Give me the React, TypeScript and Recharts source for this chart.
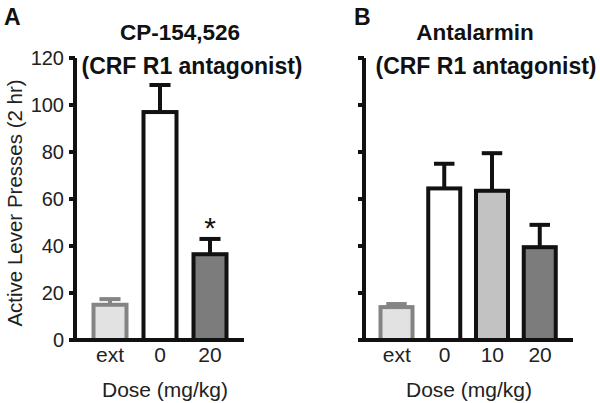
import { Bar, BarChart, XAxis, YAxis } from "recharts";

const doseA = ["ext", "0", "20"];
const meanA = [15, 97, 36.5];
const semA = [2.4, 11.5, 6.5];
const sigA = ["", "", "*"];

const doseB = ["ext", "0", "10", "20"];
const meanB = [14, 64.5, 63.5, 39.5];
const semB = [1.3, 10.5, 16, 9.5];
const sigB = ["", "", "", ""];

const yTicks = [0, 20, 40, 60, 80, 100, 120];

const FONT = "'Liberation Sans', Arial, sans-serif";
const INK = "#111";
const LINE = 4;

const fillByDose: Record<string, string> = { ext: "#e2e2e2", "0": "#ffffff", "10": "#c2c2c2", "20": "#7c7c7c" };
const strokeByDose: Record<string, string> = { ext: "#848484", "0": INK, "10": INK, "20": INK };

function toRows(dose: string[], mean: number[], sem: number[], sig: string[]) {
  return dose.map((d, i) => ({ dose: d, mean: mean[i], sem: sem[i], sig: sig[i] }));
}

const rowsA = toRows(doseA, meanA, semA, sigA);
const rowsB = toRows(doseB, meanB, semB, sigB);

// bar + upper SEM whisker, whisker length taken from the bar's own px/unit
function BarWithError(props: any) {
  const { x, y, width, height, payload } = props;
  const ink = strokeByDose[payload.dose];
  const perUnit = payload.mean ? height / payload.mean : 0;
  const top = y - payload.sem * perUnit;
  const cx = x + width / 2;
  const cap = width * 0.62;
  return (
    <g>
      <line x1={cx} x2={cx} y1={y} y2={top} stroke={ink} strokeWidth={LINE} />
      <line x1={cx - cap / 2} x2={cx + cap / 2} y1={top} y2={top} stroke={ink} strokeWidth={LINE} />
      <rect
        x={x + 0.5}
        y={y}
        width={width - 1}
        height={height}
        fill={fillByDose[payload.dose]}
        stroke={ink}
        strokeWidth={LINE}
      />
      {payload.sig ? (
        <text x={cx} y={top - 1} textAnchor="middle" fontSize={30} fontFamily={FONT} fill={INK}>
          {payload.sig}
        </text>
      ) : null}
    </g>
  );
}

const noTick = () => <g />;

const axisCss = `
.recharts-cartesian-axis-line, .recharts-cartesian-axis-tick-line {
  stroke: ${INK} !important;
  stroke-width: ${LINE}px !important;
}
`;

interface PanelProps {
  rows: ReturnType<typeof toRows>;
  left: number;
  rightMargin: number;
  axisWidth: number;
  barSize: number;
  pad: { left: number; right: number };
  showLabels: boolean;
}

function Panel({ rows, left, rightMargin, axisWidth, barSize, pad, showLabels }: PanelProps) {
  return (
    <div style={{ position: "absolute", left, top: 0 }}>
      <BarChart width={300} height={403} data={rows} margin={{ top: 58, right: rightMargin, bottom: 33, left: 0 }}>
        <Bar dataKey="mean" barSize={barSize} shape={BarWithError} isAnimationActive={false} />
        <XAxis
          dataKey="dose"
          height={30}
          padding={pad}
          tickLine={false}
          axisLine={{ stroke: INK, strokeWidth: LINE }}
          tick={{ fontSize: 21, fill: "#222", fontFamily: FONT }}
          tickSize={6}
          tickMargin={1}
        />
        <YAxis
          type="number"
          domain={[0, 120]}
          ticks={yTicks}
          interval={0}
          width={axisWidth}
          axisLine={{ stroke: INK, strokeWidth: LINE }}
          tickLine={{ stroke: INK, strokeWidth: LINE }}
          tickSize={6}
          tickMargin={5}
          tick={showLabels ? { fontSize: 20, fill: "#222", fontFamily: FONT } : noTick}
        />
      </BarChart>
    </div>
  );
}

export default function App() {
  return (
    <div style={{ position: "absolute", left: 0, top: 0, width: 600, height: 403, background: "#fff", fontFamily: FONT }}>
      <style>{axisCss}</style>
      <Panel rows={rowsA} left={0} rightMargin={56} axisWidth={75} barSize={34} pad={{ left: 10, right: 9 }} showLabels />
      <Panel rows={rowsB} left={300} rightMargin={27} axisWidth={64} barSize={33} pad={{ left: 9, right: 9 }} showLabels={false} />
      <svg width={600} height={403} style={{ position: "absolute", left: 0, top: 0, pointerEvents: "none" }}>
        <g fontFamily={FONT} fill={INK}>
          <text x={4} y={25} fontSize={23} fontWeight="bold">A</text>
          <text x={354} y={25} fontSize={23} fontWeight="bold">B</text>
          <text x={180} y={40} fontSize={22.5} fontWeight="bold" textAnchor="middle">CP-154,526</text>
          <text x={192} y={74} fontSize={23} fontWeight="bold" textAnchor="middle">(CRF R1 antagonist)</text>
          <text x={475} y={40} fontSize={22.5} fontWeight="bold" textAnchor="middle">Antalarmin</text>
          <text x={486} y={74} fontSize={23} fontWeight="bold" textAnchor="middle">(CRF R1 antagonist)</text>
          <text x={22} y={203} fontSize={20.5} fill="#222" textAnchor="middle" transform="rotate(-90 22 203)">
            Active Lever Presses (2 hr)
          </text>
          <text x={165} y={397} fontSize={21} fill="#222" textAnchor="middle">Dose (mg/kg)</text>
          <text x={469} y={397} fontSize={21} fill="#222" textAnchor="middle">Dose (mg/kg)</text>
        </g>
      </svg>
    </div>
  );
}
